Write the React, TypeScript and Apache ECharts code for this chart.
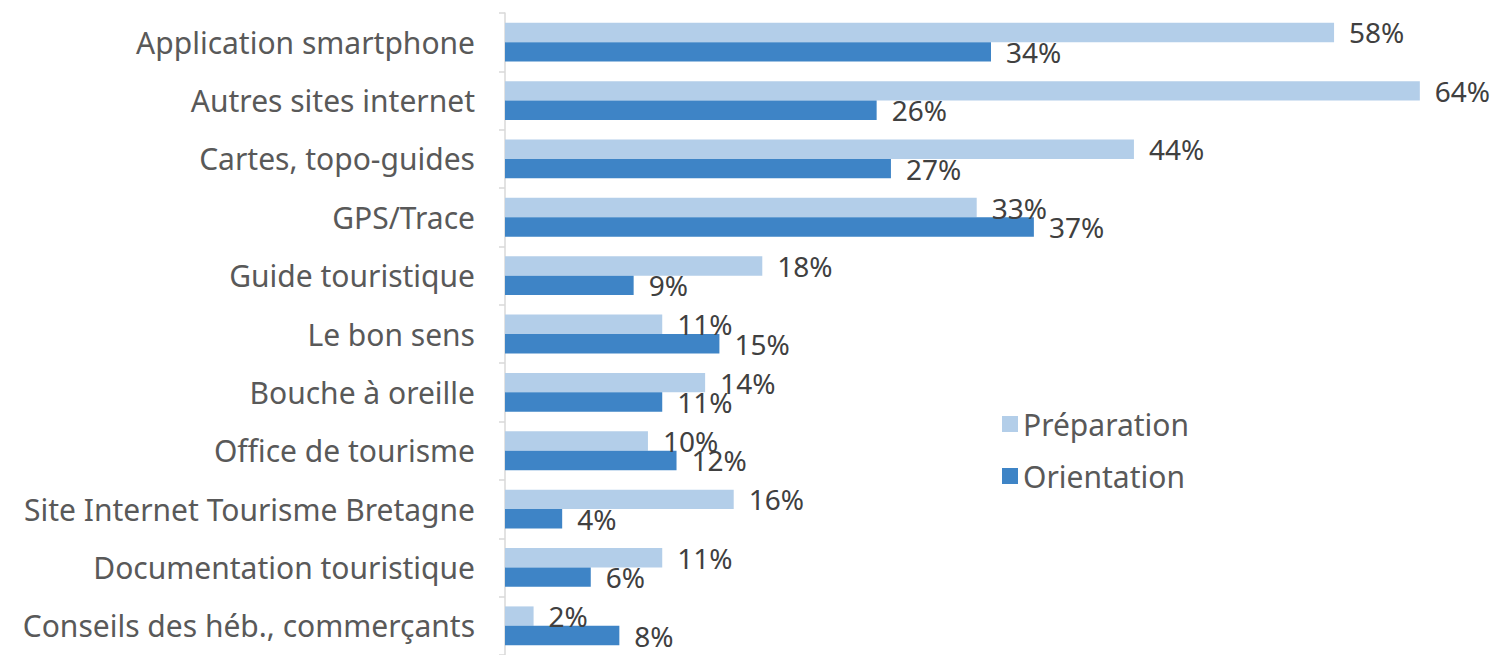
import React, { useEffect, useRef } from "react";
import * as echarts from "echarts";

const categories = [
  "Application smartphone",
  "Autres sites internet",
  "Cartes, topo-guides",
  "GPS/Trace",
  "Guide touristique",
  "Le bon sens",
  "Bouche à oreille",
  "Office de tourisme",
  "Site Internet Tourisme Bretagne",
  "Documentation touristique",
  "Conseils des héb., commerçants",
];
const preparation = [58, 64, 44, 33, 18, 11, 14, 10, 16, 11, 2];
const orientation = [34, 26, 27, 37, 9, 15, 11, 12, 4, 6, 8];

const FONT = "'Noto Sans', sans-serif";

export default function App() {
  const ref = useRef<HTMLDivElement>(null);
  useEffect(() => {
    if (!ref.current) return;
    const chart = echarts.init(ref.current, undefined, { renderer: "svg" });
    const label = {
      show: true,
      position: "right" as const,
      distance: 15,
      formatter: "{c}%",
      color: "#404040",
      fontSize: 28,
      fontFamily: FONT,
    };
    chart.setOption({
      animation: false,
      backgroundColor: "#ffffff",
      grid: { left: 505, top: 13, right: 16, bottom: -4, containLabel: false },
      legend: {
        orient: "vertical",
        left: 997,
        top: 404,
        itemWidth: 16,
        itemHeight: 16,
        itemGap: 22,
        icon: "rect",
        textStyle: { color: "#595959", fontSize: 30, fontFamily: FONT },
        data: ["Préparation", "Orientation"],
      },
      xAxis: {
        type: "value",
        min: 0,
        max: 68,
        show: false,
      },
      yAxis: {
        type: "category",
        inverse: true,
        data: categories,
        axisLine: { show: true, lineStyle: { color: "#D9D9D9", width: 1.5 } },
        axisTick: { show: true, length: 6, lineStyle: { color: "#D9D9D9", width: 1.5 } },
        axisLabel: { color: "#595959", fontSize: 30, fontFamily: FONT, margin: 30 },
      },
      series: [
        {
          name: "Préparation",
          type: "bar",
          data: preparation,
          barGap: "0%",
          barCategoryGap: "33.5%",
          itemStyle: { color: "#B3CEE9" },
          label,
        },
        {
          name: "Orientation",
          type: "bar",
          data: orientation,
          itemStyle: { color: "#3E84C6" },
          label,
        },
      ],
    });
    return () => chart.dispose();
  }, []);
  return (
    <div
      ref={ref}
      style={{ position: "fixed", left: 0, top: 0, width: 1493, height: 655 }}
    />
  );
}
